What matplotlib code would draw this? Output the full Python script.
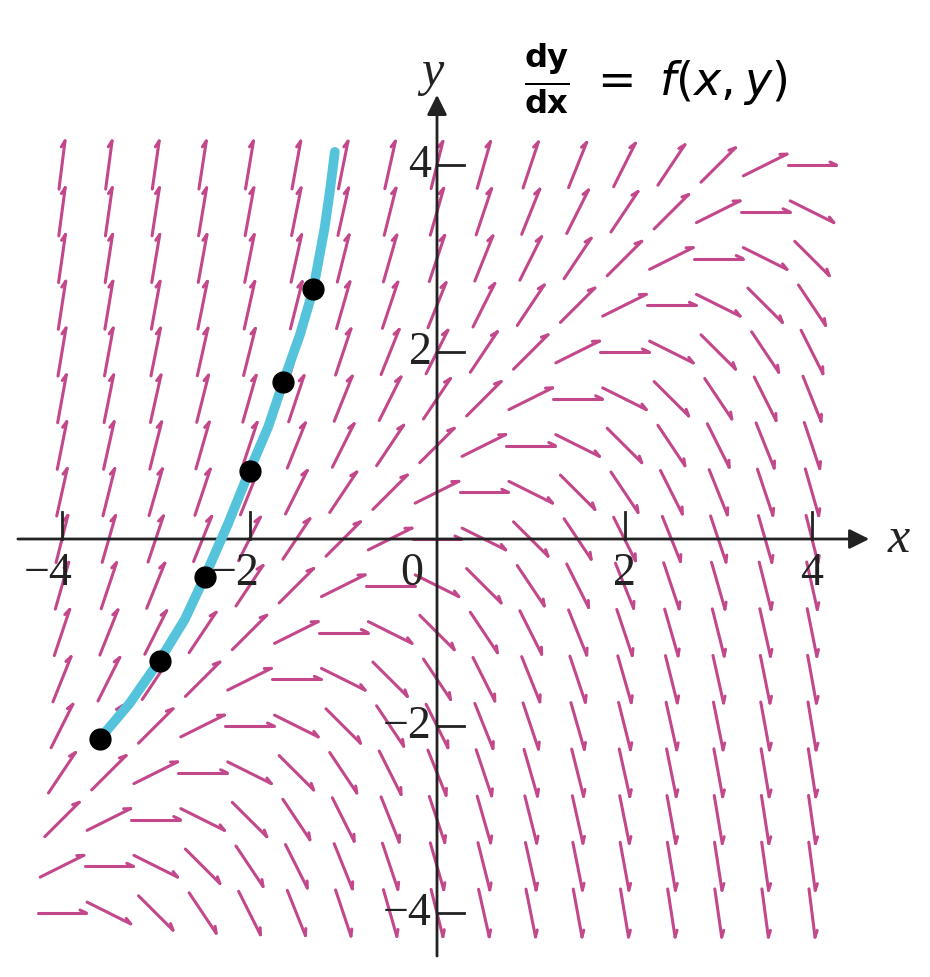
import matplotlib.pyplot as plt
import numpy as np
from matplotlib.collections import LineCollection

plt.rcParams['mathtext.fontset'] = 'dejavusans'

# direction field grid (columns left -> right, rows top -> bottom)
grid_x = [-4, -3.5, -3, -2.5, -2, -1.5, -1, -0.5, 0, 0.5, 1, 1.5, 2, 2.5, 3, 3.5, 4]
grid_y = [4, 3.5, 3, 2.5, 2, 1.5, 1, 0.5, 0, -0.5, -1, -1.5, -2, -2.5, -3, -3.5, -4]

# slope of each little segment
slopes = [
    [8, 7.5, 7, 6.5, 6, 5.5, 5, 4.5, 4, 3.5, 3, 2.5, 2, 1.5, 1, 0.5, 0],
    [7.5, 7, 6.5, 6, 5.5, 5, 4.5, 4, 3.5, 3, 2.5, 2, 1.5, 1, 0.5, 0, -0.5],
    [7, 6.5, 6, 5.5, 5, 4.5, 4, 3.5, 3, 2.5, 2, 1.5, 1, 0.5, 0, -0.5, -1],
    [6.5, 6, 5.5, 5, 4.5, 4, 3.5, 3, 2.5, 2, 1.5, 1, 0.5, 0, -0.5, -1, -1.5],
    [6, 5.5, 5, 4.5, 4, 3.5, 3, 2.5, 2, 1.5, 1, 0.5, 0, -0.5, -1, -1.5, -2],
    [5.5, 5, 4.5, 4, 3.5, 3, 2.5, 2, 1.5, 1, 0.5, 0, -0.5, -1, -1.5, -2, -2.5],
    [5, 4.5, 4, 3.5, 3, 2.5, 2, 1.5, 1, 0.5, 0, -0.5, -1, -1.5, -2, -2.5, -3],
    [4.5, 4, 3.5, 3, 2.5, 2, 1.5, 1, 0.5, 0, -0.5, -1, -1.5, -2, -2.5, -3, -3.5],
    [4, 3.5, 3, 2.5, 2, 1.5, 1, 0.5, 0, -0.5, -1, -1.5, -2, -2.5, -3, -3.5, -4],
    [3.5, 3, 2.5, 2, 1.5, 1, 0.5, 0, -0.5, -1, -1.5, -2, -2.5, -3, -3.5, -4, -4.5],
    [3, 2.5, 2, 1.5, 1, 0.5, 0, -0.5, -1, -1.5, -2, -2.5, -3, -3.5, -4, -4.5, -5],
    [2.5, 2, 1.5, 1, 0.5, 0, -0.5, -1, -1.5, -2, -2.5, -3, -3.5, -4, -4.5, -5, -5.5],
    [2, 1.5, 1, 0.5, 0, -0.5, -1, -1.5, -2, -2.5, -3, -3.5, -4, -4.5, -5, -5.5, -6],
    [1.5, 1, 0.5, 0, -0.5, -1, -1.5, -2, -2.5, -3, -3.5, -4, -4.5, -5, -5.5, -6, -6.5],
    [1, 0.5, 0, -0.5, -1, -1.5, -2, -2.5, -3, -3.5, -4, -4.5, -5, -5.5, -6, -6.5, -7],
    [0.5, 0, -0.5, -1, -1.5, -2, -2.5, -3, -3.5, -4, -4.5, -5, -5.5, -6, -6.5, -7, -7.5],
    [0, -0.5, -1, -1.5, -2, -2.5, -3, -3.5, -4, -4.5, -5, -5.5, -6, -6.5, -7, -7.5, -8],
]

# hand drawn solution curve and the points on it
curve_x = [-3.60, -3.28, -2.96, -2.69, -2.48, -2.23, -2.00, -1.80, -1.64, -1.46, -1.32, -1.20, -1.14, -1.09]
curve_y = [-2.14, -1.76, -1.30, -0.86, -0.41, 0.16, 0.73, 1.20, 1.68, 2.19, 2.67, 3.32, 3.74, 4.14]
dot_x = [-3.60, -2.96, -2.48, -2.00, -1.64, -1.32]
dot_y = [-2.14, -1.30, -0.41, 0.73, 1.68, 2.67]

x_ticks = [-4, -2, 2, 4]
y_ticks = [-4, -2, 2, 4]

field_color = '#c2478b'
axis_color = '#222222'
seg_len = 0.52
barb_len = 0.075
barb_ang = np.radians(155)

fig = plt.figure(figsize=(9.3, 9.78), dpi=100)
ax = fig.add_axes([0, 0, 1, 1])
ax.set_xlim(-437 / 93.75, 493 / 93.75)
ax.set_ylim(-438 / 93.5, 540 / 93.5)
ax.axis('off')

# direction field: short segments with a half arrow head
segs = []
for i, y0 in enumerate(grid_y):
    for j, x0 in enumerate(grid_x):
        th = np.arctan(slopes[i][j])
        dx, dy = np.cos(th), np.sin(th)
        tail = (x0 - seg_len / 2 * dx, y0 - seg_len / 2 * dy)
        tip = (x0 + seg_len / 2 * dx, y0 + seg_len / 2 * dy)
        barb = (tip[0] + barb_len * np.cos(th + barb_ang), tip[1] + barb_len * np.sin(th + barb_ang))
        segs.append([tail, tip])
        segs.append([tip, barb])
ax.add_collection(LineCollection(segs, colors=field_color, linewidths=2.2, capstyle='round', zorder=2))

# axes with arrow heads
ax.annotate('', xy=(4.64, 0), xytext=(-4.50, 0),
            arrowprops=dict(arrowstyle='-|>', color=axis_color, lw=2, mutation_scale=30), zorder=3)
ax.annotate('', xy=(0, 4.78), xytext=(0, -4.49),
            arrowprops=dict(arrowstyle='-|>', color=axis_color, lw=2, mutation_scale=30), zorder=3)

for t in x_ticks:
    ax.plot([t, t], [0, 0.29], color=axis_color, lw=2, zorder=3)
    ax.text(t - 0.15 if t < 0 else t, -0.36, f'{t}'.replace('-', '\u2212'), ha='center', va='center',
            fontsize=33, family='Liberation Serif', color=axis_color)
for t in y_ticks:
    ax.plot([0, 0.29], [t, t], color=axis_color, lw=2, zorder=3)
    ax.text(-0.06, t, f'{t}'.replace('-', '\u2212'), ha='right', va='center',
            fontsize=33, family='Liberation Serif', color=axis_color)
ax.text(-0.27, -0.36, '0', ha='center', va='center', fontsize=33, family='Liberation Serif', color=axis_color)

ax.text(4.92, 0.0, 'x', ha='center', va='center', fontsize=36, family='Liberation Serif',
        style='italic', color=axis_color)
ax.text(-0.05, 5.0, 'y', ha='center', va='center', fontsize=36, family='Liberation Serif',
        style='italic', color=axis_color)

# solution curve
ax.plot(curve_x, curve_y, color='#55c3dc', lw=7, solid_capstyle='round', zorder=4)
ax.plot(dot_x, dot_y, 'o', color='black', ms=15, zorder=5)

ax.text(2.33, 4.94, r'$\mathbf{\frac{dy}{dx}}\ =\ f(x,y)$', ha='center', va='center',
        fontsize=33, color='black')

fig.savefig('out.png', dpi=100)
